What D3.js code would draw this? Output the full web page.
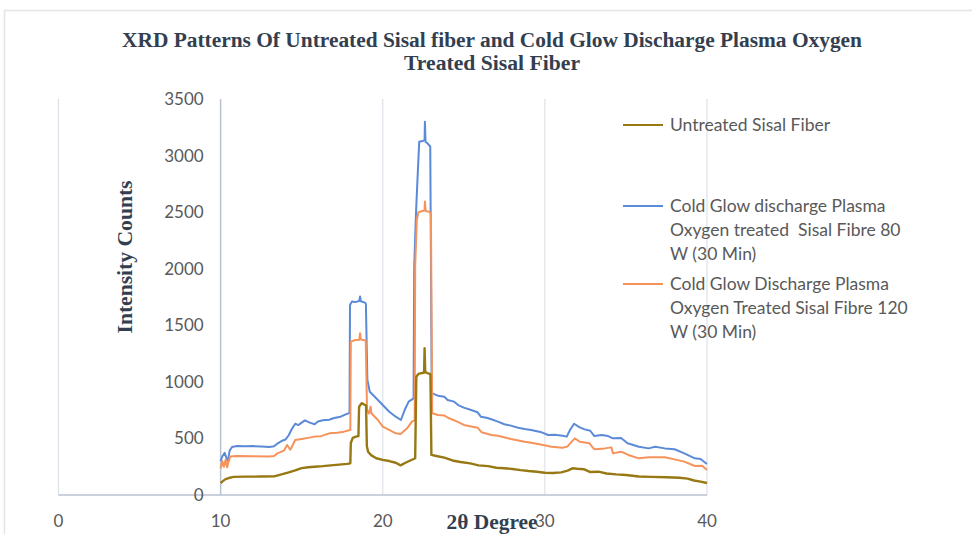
<!DOCTYPE html>
<html>
<head>
<meta charset="utf-8">
<script src="https://d3js.org/d3.v7.min.js"></script>
<style>
  body { margin: 0; background: #fff; }
  svg { display: block; }
</style>
</head>
<body>
<div id="chart"></div>
<script>
// values: [2theta, intensity]
const untreated = [[10.0,105],[10.1,118],[10.3,140],[10.5,150],[10.8,160],[11.5,162],[12.5,163],[13.3,165],[13.7,180],[14.2,200],[14.6,218],[15.0,238],[15.4,245],[15.8,250],[16.3,255],[16.8,262],[17.3,268],[17.8,275],[18.0,280],[18.03,460],[18.15,505],[18.35,516],[18.5,520],[18.54,780],[18.7,812],[18.85,800],[18.97,790],[19.02,430],[19.1,380],[19.3,350],[19.6,325],[20.0,310],[20.4,300],[20.8,285],[21.1,262],[21.4,285],[21.7,305],[22.0,325],[22.07,1045],[22.2,1070],[22.4,1078],[22.55,1080],[22.58,1297],[22.62,1085],[22.8,1075],[22.94,1068],[23.0,354],[23.3,345],[23.8,330],[24.3,305],[24.8,292],[25.4,280],[25.9,262],[26.5,255],[27.0,241],[27.5,236],[28.0,230],[28.5,220],[29.0,212],[29.5,206],[30.0,197],[30.5,195],[31.0,200],[31.4,215],[31.7,236],[32.0,232],[32.4,228],[32.8,203],[33.3,206],[33.8,190],[34.4,182],[35.0,177],[35.8,163],[36.5,160],[37.5,157],[38.3,152],[38.8,145],[39.2,128],[39.6,118],[40.0,106]];

const plasma80 = [[10.0,300],[10.1,340],[10.25,372],[10.35,330],[10.45,300],[10.55,390],[10.7,425],[11.0,433],[11.5,430],[12.0,432],[12.5,428],[13.0,425],[13.3,430],[13.5,455],[13.8,480],[14.0,490],[14.2,528],[14.4,585],[14.6,630],[14.8,618],[15.0,640],[15.2,660],[15.5,640],[15.8,625],[16.0,650],[16.3,660],[16.7,665],[17.0,680],[17.4,692],[17.75,715],[17.95,725],[17.98,1680],[18.1,1710],[18.3,1705],[18.55,1715],[18.6,1755],[18.65,1712],[18.9,1700],[18.96,1690],[19.05,1020],[19.2,913],[19.4,884],[19.7,840],[20.0,795],[20.4,736],[20.8,692],[21.12,663],[21.35,751],[21.6,825],[21.9,854],[21.94,2018],[22.05,2490],[22.15,2814],[22.25,3123],[22.45,3128],[22.58,3140],[22.6,3300],[22.64,3120],[22.75,3110],[22.93,3080],[23.02,900],[23.4,878],[23.8,869],[24.0,840],[24.4,825],[24.65,795],[25.0,772],[25.45,751],[25.85,731],[26.05,692],[26.4,683],[26.7,669],[27.1,648],[27.5,625],[27.9,613],[28.35,595],[28.75,583],[29.15,575],[29.8,554],[30.2,530],[30.6,532],[31.1,524],[31.35,516],[31.55,575],[31.8,630],[32.15,598],[32.45,580],[32.8,568],[33.05,521],[33.5,530],[33.9,521],[34.2,501],[34.7,503],[35.1,457],[35.8,427],[36.4,412],[36.8,427],[37.4,412],[38.0,404],[38.6,368],[39.25,324],[39.6,318],[40.0,274]];

const plasma120 = [[10.0,236],[10.1,300],[10.2,250],[10.3,310],[10.4,244],[10.5,300],[10.6,340],[11.0,345],[12.0,342],[13.0,340],[13.3,345],[13.5,368],[13.9,392],[14.1,442],[14.3,400],[14.6,486],[15.0,495],[15.4,505],[15.8,516],[16.2,520],[16.7,545],[17.2,550],[17.6,560],[18.0,575],[18.03,1355],[18.3,1370],[18.55,1372],[18.6,1430],[18.65,1375],[18.95,1365],[19.03,751],[19.15,720],[19.25,781],[19.3,722],[19.7,663],[20.0,604],[20.4,575],[20.8,545],[21.1,540],[21.5,589],[21.8,648],[21.97,663],[22.0,2020],[22.1,2430],[22.2,2500],[22.45,2510],[22.58,2515],[22.6,2593],[22.65,2510],[22.8,2505],[22.97,2495],[23.05,722],[23.4,707],[23.8,702],[24.1,678],[24.6,648],[25.0,619],[25.85,595],[26.1,554],[26.7,530],[27.1,524],[27.9,495],[28.75,471],[29.15,462],[29.9,442],[30.4,427],[31.1,418],[31.4,430],[31.6,463],[31.85,501],[32.15,471],[32.75,457],[33.05,404],[33.7,412],[34.1,421],[34.2,368],[34.7,383],[35.15,354],[35.8,324],[36.4,333],[37.4,333],[38.0,315],[38.6,295],[39.25,256],[39.7,258],[40.0,221]];

const xTicks = [0, 10, 20, 30, 40];
const yTicks = [0, 500, 1000, 1500, 2000, 2500, 3000, 3500];

const seriesNames = ["Untreated Sisal Fiber",
  ["Cold Glow discharge Plasma", "Oxygen treated  Sisal Fibre 80", "W (30 Min)"],
  ["Cold Glow Discharge Plasma", "Oxygen Treated Sisal Fibre 120", "W (30 Min)"]];
const seriesColors = ["#977812", "#5b8ad8", "#f6935b"];

let svgextent = [972, 534];

var svg = d3.select("#chart").append("svg")
    .attr("width", svgextent[0])
    .attr("height", svgextent[1]);

// faint frame of the original picture
svg.append("path")
    .attr("d", "M4.5,534 V10.5 H972")
    .attr("fill", "none")
    .attr("stroke", "#e4e4e4")
    .attr("stroke-width", 1.5);

var x = d3.scaleLinear().domain([0, 40]).range([58.5, 707]);
var y = d3.scaleLinear().domain([0, 3500]).range([495, 99]);

// vertical gridlines
svg.append("g")
  .selectAll("line")
  .data(xTicks)
  .enter().append("line")
    .attr("x1", d => x(d)).attr("x2", d => x(d))
    .attr("y1", y(3500)).attr("y2", y(0))
    .attr("stroke", d => d == 10 ? "#b9c1d1" : "#dde1e8")
    .attr("stroke-width", d => d == 10 ? 1.5 : 1.2);

// horizontal axis line
svg.append("line")
    .attr("x1", x(0)).attr("x2", x(40))
    .attr("y1", y(0)).attr("y2", y(0))
    .attr("stroke", "#b9c1d1")
    .attr("stroke-width", 1.5);

var tickFont = "Lato, 'Open Sans', sans-serif";

svg.append("g")
  .selectAll("text")
  .data(yTicks)
  .enter().append("text")
    .attr("x", x(10) - 17)
    .attr("y", d => y(d) + 6)
    .attr("text-anchor", "end")
    .style("font-family", tickFont)
    .style("font-size", "17px")
    .style("fill", "#595959")
    .text(d => d);

svg.append("g")
  .selectAll("text")
  .data(xTicks)
  .enter().append("text")
    .attr("x", d => x(d))
    .attr("y", 527)
    .attr("text-anchor", "middle")
    .style("font-family", tickFont)
    .style("font-size", "17px")
    .style("fill", "#595959")
    .text(d => d);

var line = d3.line()
    .x(d => x(d[0]))
    .y(d => y(d[1]));

[plasma80, plasma120, untreated].forEach(function(s, i) {
  var idx = [1, 2, 0][i];
  svg.append("path")
      .datum(s)
      .attr("d", line)
      .attr("fill", "none")
      .attr("stroke", seriesColors[idx])
      .attr("stroke-width", idx == 0 ? 2.4 : 2)
      .attr("stroke-linejoin", "round");
});

// titles
var serif = "'Liberation Serif', 'Times New Roman', serif";
var titleColor = "#333f50";

svg.append("text")
    .attr("x", 492).attr("y", 47)
    .attr("text-anchor", "middle")
    .attr("textLength", 740)
    .attr("lengthAdjust", "spacingAndGlyphs")
    .style("font-family", serif).style("font-weight", "bold")
    .style("font-size", "20px").style("fill", titleColor)
    .text("XRD Patterns Of Untreated Sisal fiber and Cold Glow Discharge Plasma Oxygen");

svg.append("text")
    .attr("x", 492).attr("y", 70)
    .attr("text-anchor", "middle")
    .attr("textLength", 176)
    .attr("lengthAdjust", "spacingAndGlyphs")
    .style("font-family", serif).style("font-weight", "bold")
    .style("font-size", "20px").style("fill", titleColor)
    .text("Treated Sisal Fiber");

svg.append("text")
    .attr("transform", "translate(132,257) rotate(-90)")
    .attr("text-anchor", "middle")
    .attr("textLength", 153)
    .attr("lengthAdjust", "spacingAndGlyphs")
    .style("font-family", serif).style("font-weight", "bold")
    .style("font-size", "22px").style("fill", titleColor)
    .text("Intensity Counts");

svg.append("text")
    .attr("x", 492).attr("y", 529)
    .attr("text-anchor", "middle")
    .attr("textLength", 91)
    .attr("lengthAdjust", "spacingAndGlyphs")
    .style("font-family", serif).style("font-weight", "bold")
    .style("font-size", "21px").style("fill", titleColor)
    .text("2θ Degree");

// legend
var legendY = [125, 206, 284];
var legend = svg.append("g");
seriesNames.forEach(function(name, i) {
  legend.append("line")
      .attr("x1", 623).attr("x2", 663)
      .attr("y1", legendY[i]).attr("y2", legendY[i])
      .attr("stroke", seriesColors[i])
      .attr("stroke-width", 2);
  var lines = Array.isArray(name) ? name : [name];
  lines.forEach(function(t, j) {
    legend.append("text")
        .attr("x", 670)
        .attr("y", legendY[i] + 6 + j * 24)
        .style("font-family", tickFont)
        .style("font-size", "17.5px")
        .style("fill", "#595959")
        .style("white-space", "pre")
        .text(t);
  });
});
</script>
</body>
</html>
